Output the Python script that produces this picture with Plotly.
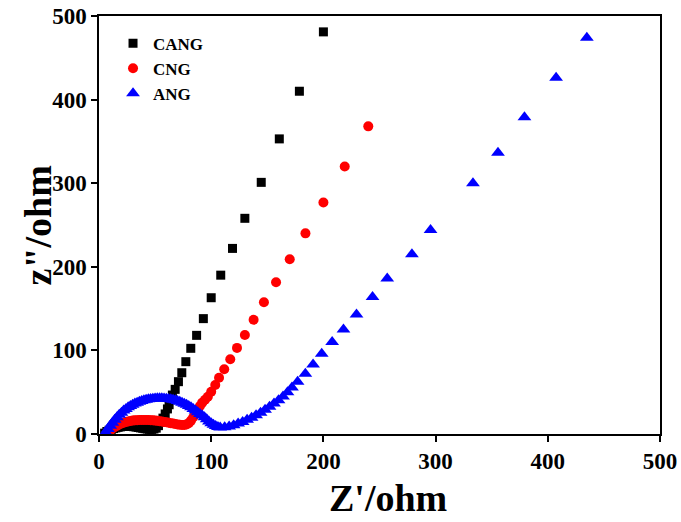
import plotly.graph_objects as go

# CANG (black squares)
cang_x = [5, 7, 9, 11, 13, 15, 17, 19, 21, 23, 25, 27, 29, 31, 33, 35, 37, 39, 41, 43, 45, 47, 49,
          51, 53, 55, 57, 59, 61, 62.5, 64, 65.4, 67.9, 70.8, 73.8, 77.4, 81.8, 87, 93, 100, 108.5,
          119, 130, 144.6, 160.7, 178.6, 200]
cang_y = [1, 3, 4.5, 5.5, 6.5, 7.3, 8, 8.5, 9, 9.2, 9.3, 9.2, 9, 8.7, 8.3, 7.8, 7.3, 6.8, 6.3, 5.9, 5.6, 5.5, 6,
          7, 10, 14, 19, 24, 30, 35, 41, 46.6, 53.4, 62.6, 73.3, 86.5, 102.5, 118, 138, 163, 190,
          222, 258, 301, 353, 410, 481]

# CNG (red circles)
cng_x = [8, 10, 12, 14, 16, 18, 20, 22, 24, 26, 28, 30, 32, 34, 36, 38, 40, 42, 44, 46, 48, 50, 52, 54,
         56, 58, 60, 62, 64, 66, 68, 70, 72, 74, 76, 78, 80, 82, 84, 86, 88, 90, 92, 94.5, 97, 100, 103.6,
         107, 111.6, 117, 123, 130, 137.8, 147, 157.8, 170, 184, 200, 219, 240]
cng_y = [1, 4, 6.5, 8.5, 10, 11.5, 12.5, 13.5, 14.3, 15, 15.5, 16, 16.3, 16.5, 16.7, 16.8, 16.8, 16.8, 16.7,
         16.5, 16.3, 16, 15.7, 15.3, 15, 14.5, 14, 13.5, 13, 12.5, 12, 11.5, 11, 10.8, 10.8, 11.5, 13, 16,
         20, 24.5, 29, 33.5, 37.5, 41, 44.6, 50.6, 58.6, 67.3, 77.4, 89.4, 103, 118.4, 136.7, 157.5, 181.5,
         209, 240, 277, 320, 368]

# ANG (blue triangles)
ang_x = [6, 8, 10, 12, 14, 16, 18, 20, 22, 24, 26, 28, 30, 32, 34, 36, 38, 40, 42, 44, 46, 48, 50, 52,
         54, 56, 58, 60, 62, 64, 66, 68, 70, 72, 74, 76, 78, 80, 82, 84, 86, 88, 90, 92, 94, 96, 98, 100,
         102, 104, 106, 108, 112, 116, 120, 124, 128, 132, 136, 140, 144, 148, 152, 156, 160, 164, 168,
         172, 177, 183.9, 190.8, 198.5, 207.8, 217.9, 229.5, 243.8, 256.9, 278.9, 295.5, 333.3, 355.6,
         379.2, 407.4, 434.8]
ang_y = [2, 6, 10, 13.5, 17, 20, 23, 25.5, 28, 30, 32, 33.5, 35, 36.5, 37.5, 38.5, 39.5, 40.3, 41, 41.5,
         42, 42.3, 42.5, 42.7, 42.8, 42.8, 42.6, 42.3, 42, 41.5, 41, 40.3, 39.5, 38.5, 37.5, 36.3, 35,
         33.5, 32, 30, 28, 26, 24, 22, 20, 17.5, 15, 13, 11, 9.5, 8.5, 7.8, 8, 9, 10.5, 12.5, 14.5, 17,
         19.5, 22.5, 25.5, 29, 32.5, 36.5, 40.5, 45, 50, 55.5, 62.5, 72, 83, 96, 110, 125, 143, 164, 186,
         215, 244, 300, 336.5, 379, 426, 474]

x_ticks = [0, 100, 200, 300, 400, 500]
y_ticks = [0, 100, 200, 300, 400, 500]
x_title = "Z'/ohm"
y_title = 'z"/ohm'

font = "Liberation Serif"

fig = go.Figure()
fig.add_trace(go.Scatter(x=cang_x, y=cang_y, mode="markers", name="CANG",
                         marker=dict(symbol="square", size=9, color="black")))
fig.add_trace(go.Scatter(x=cng_x, y=cng_y, mode="markers", name="CNG",
                         marker=dict(symbol="circle", size=10, color="red")))
fig.add_trace(go.Scatter(x=ang_x, y=ang_y, mode="markers", name="ANG",
                         marker=dict(symbol="triangle-up", size=12, color="blue")))

axis_common = dict(showgrid=False, zeroline=False, showline=True, linecolor="black", linewidth=1.5,
                   mirror=True, ticks="outside", ticklen=6, tickwidth=1.5, tickcolor="black",
                   automargin=False,
                   tickfont=dict(family=font, size=23, color="black", weight="bold"))

title_font = dict(family=font, size=38, color="black", weight="bold")

fig.update_layout(
    width=681, height=522,
    margin=dict(l=99, r=21, t=16, b=88, autoexpand=False),
    paper_bgcolor="white", plot_bgcolor="white",
    showlegend=True,
    legend=dict(x=0.025, y=0.977, xanchor="left", yanchor="top",
                font=dict(family=font, size=17, color="black", weight="bold"),
                bgcolor="rgba(0,0,0,0)", tracegroupgap=0),
    xaxis=dict(range=[0, 500], tickvals=x_ticks, **axis_common),
    yaxis=dict(range=[0, 500], tickvals=y_ticks, **axis_common),
    annotations=[
        dict(text=x_title, xref="paper", yref="paper", x=0.515, y=-0.152, xanchor="center",
             yanchor="middle", showarrow=False, font=title_font),
        dict(text=y_title, xref="paper", yref="paper", x=-0.108, y=0.5, xanchor="center",
             yanchor="middle", textangle=-90, showarrow=False, font=title_font),
    ],
)

fig.write_html("out.html")
